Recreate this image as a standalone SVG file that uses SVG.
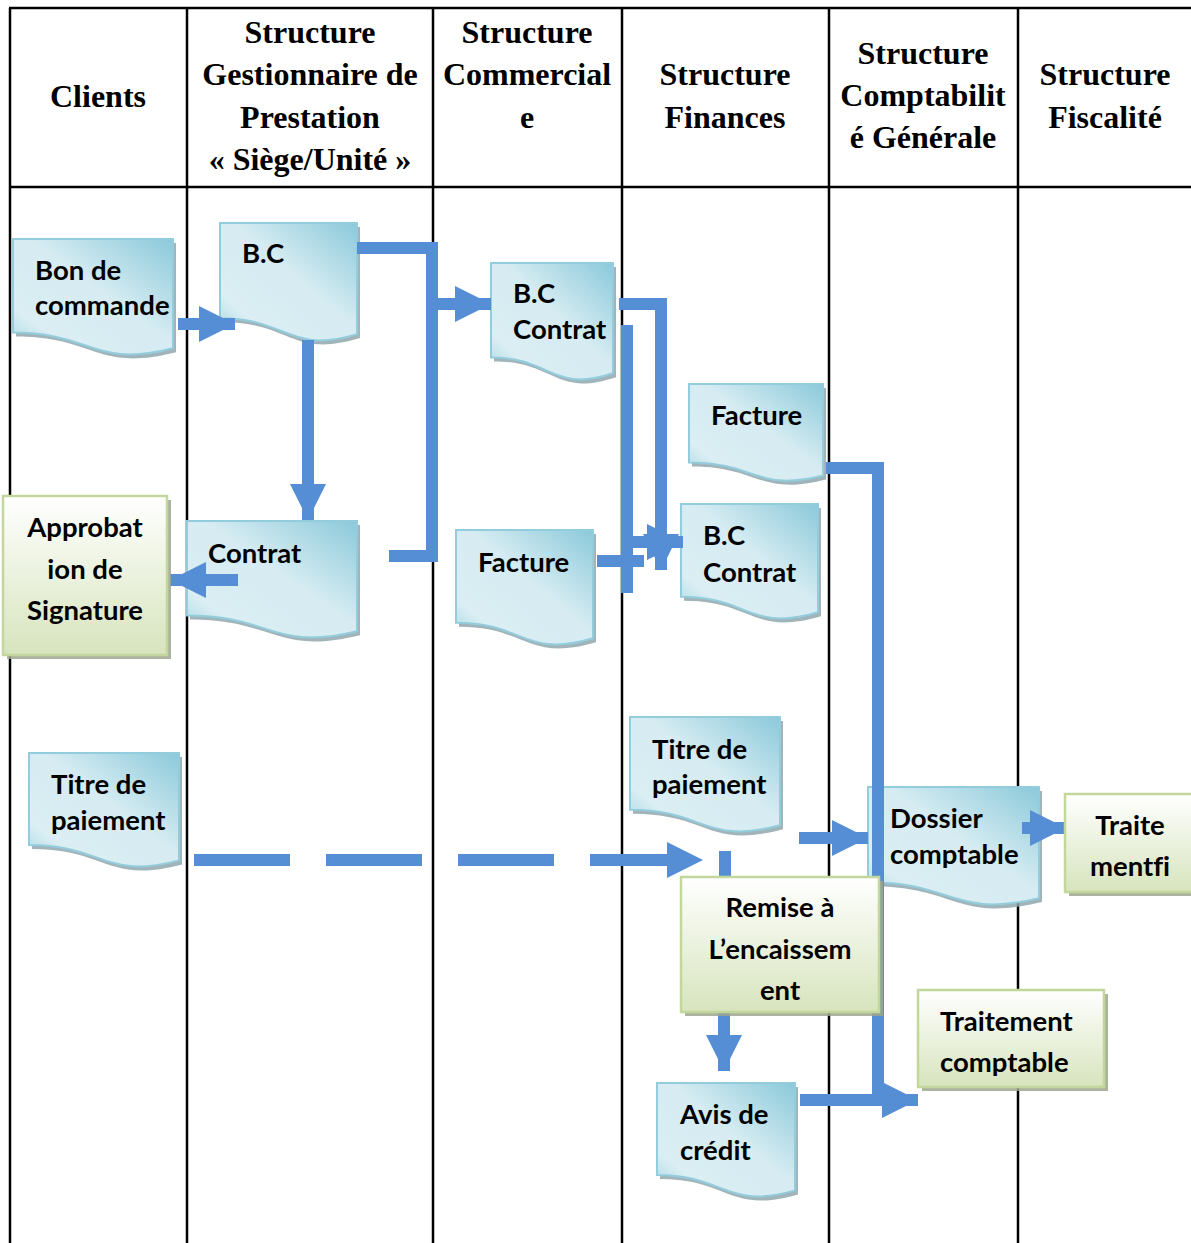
<svg xmlns="http://www.w3.org/2000/svg" xmlns:xlink="http://www.w3.org/1999/xlink" width="1191" height="1243" viewBox="0 0 1191 1243">
<style>
.grid{stroke:#000;stroke-width:2.5;fill:none}
.hd{font-family:"Liberation Serif","Times New Roman",serif;font-weight:bold;font-size:32px;fill:#000;text-anchor:middle}
.tx{font-family:Lato,"Noto Sans",sans-serif;font-weight:bold;font-size:27.5px;fill:#000;font-variant-ligatures:none}
.tc{text-anchor:middle}
.doc{fill:url(#gDoc);stroke:#93cddd;stroke-width:2}
.dsh{fill:#8fa7ae;opacity:0.85}
.box{fill:url(#gBox);stroke:#c3d69b;stroke-width:2.5}
.bsh{fill:#9ea68e;opacity:0.85}
.cn{stroke:#558ed5;stroke-width:12;fill:none;stroke-linejoin:miter}
</style>
<defs>
<linearGradient id="gDoc" x1="1" y1="0" x2="0" y2="1">
<stop offset="0" stop-color="#8bc9da"/>
<stop offset="0.45" stop-color="#d6ecf2"/>
<stop offset="0.8" stop-color="#daeef3"/>
<stop offset="1" stop-color="#a3d6e2"/>
</linearGradient>
<linearGradient id="gBox" x1="0" y1="0" x2="0" y2="1">
<stop offset="0" stop-color="#ffffff"/>
<stop offset="1" stop-color="#d7e4bd"/>
</linearGradient>
<marker id="ah" markerUnits="userSpaceOnUse" viewBox="0 0 36 36" markerWidth="36" markerHeight="36" refX="36" refY="18" orient="auto">
<path d="M0,0 L36,18 L0,36 Z" fill="#558ed5"/>
</marker>
<path id="p1" d="M13 239 H173 V348.3 C93 368.5 93 332.6 13 332.6 Z"/>
<path id="p2" d="M220 223 H357 V334.1 C288.5 354.7 288.5 318.2 220 318.2 Z"/>
<path id="p3" d="M491 263 H613 V373.2 C552 393.6 552 357.4 491 357.4 Z"/>
<path id="p4" d="M689 384 H823 V475.5 C756 492.5 756 462.4 689 462.4 Z"/>
<path id="p5" d="M681 504 H818 V612.3 C749.5 632.4 749.5 596.8 681 596.8 Z"/>
<path id="p6" d="M187 521 H357 V631.2 C272 651.6 272 615.4 187 615.4 Z"/>
<path id="p7" d="M456 530 H593 V638.3 C524.5 658.4 524.5 622.8 456 622.8 Z"/>
<path id="p9" d="M29 753 H179 V860.4 C104 880.3 104 845 29 845 Z"/>
<path id="p10" d="M630 717 H780 V825.3 C705 845.4 705 809.8 630 809.8 Z"/>
<path id="p11" d="M868 787 H1039 V898.1 C953.5 918.7 953.5 882.2 868 882.2 Z"/>
<path id="p14" d="M657 1083 H795 V1190.4 C726 1210.3 726 1175 657 1175 Z"/>
</defs>
<rect width="1191" height="1243" fill="#fff"/>
<g id="table">
<line class="grid" x1="9" y1="8" x2="1191" y2="8"/>
<line class="grid" x1="9" y1="187" x2="1191" y2="187"/>
<line class="grid" x1="10" y1="8" x2="10" y2="1243"/>
<line class="grid" x1="187" y1="8" x2="187" y2="1243"/>
<line class="grid" x1="433" y1="8" x2="433" y2="1243"/>
<line class="grid" x1="622" y1="8" x2="622" y2="1243"/>
<line class="grid" x1="829" y1="8" x2="829" y2="1243"/>
<line class="grid" x1="1018" y1="8" x2="1018" y2="1243"/>
<text class="hd" x="98" y="107">Clients</text>
<text class="hd" x="310"><tspan x="310" y="43">Structure</tspan><tspan x="310" y="85">Gestionnaire de</tspan><tspan x="310" y="128">Prestation</tspan><tspan x="310" y="170">« Siège/Unité »</tspan></text>
<text class="hd"><tspan x="527" y="43">Structure</tspan><tspan x="527" y="85">Commercial</tspan><tspan x="527" y="128">e</tspan></text>
<text class="hd"><tspan x="725" y="85">Structure</tspan><tspan x="725" y="128">Finances</tspan></text>
<text class="hd"><tspan x="923" y="64">Structure</tspan><tspan x="923" y="106">Comptabilit</tspan><tspan x="923" y="148">é Générale</tspan></text>
<text class="hd"><tspan x="1105" y="85">Structure</tspan><tspan x="1105" y="128">Fiscalité</tspan></text>
</g>
<g id="n-bon-commande"><use xlink:href="#p1" class="dsh" transform="translate(3,4)"/><use xlink:href="#p1" class="doc"/><text class="tx"><tspan x="35" y="280">Bon de</tspan><tspan x="35" y="315">commande</tspan></text></g>
<g id="n-bc-gest"><use xlink:href="#p2" class="dsh" transform="translate(3,4)"/><use xlink:href="#p2" class="doc"/><text class="tx" x="242" y="263">B.C</text></g>
<g id="n-bc-contrat-comm"><use xlink:href="#p3" class="dsh" transform="translate(3,4)"/><use xlink:href="#p3" class="doc"/><text class="tx"><tspan x="513" y="303">B.C</tspan><tspan x="513" y="339">Contrat</tspan></text></g>
<g id="n-facture-fin"><use xlink:href="#p4" class="dsh" transform="translate(3,4)"/><use xlink:href="#p4" class="doc"/><text class="tx" x="711" y="425">Facture</text></g>
<g id="n-bc-contrat-fin"><use xlink:href="#p5" class="dsh" transform="translate(3,4)"/><use xlink:href="#p5" class="doc"/><text class="tx"><tspan x="703" y="545">B.C</tspan><tspan x="703" y="582">Contrat</tspan></text></g>
<g id="n-contrat"><use xlink:href="#p6" class="dsh" transform="translate(3,4)"/><use xlink:href="#p6" class="doc"/><text class="tx" x="208" y="563">Contrat</text></g>
<g id="n-facture-comm"><use xlink:href="#p7" class="dsh" transform="translate(3,4)"/><use xlink:href="#p7" class="doc"/><text class="tx" x="478" y="572">Facture</text></g>
<g id="n-titre-clients"><use xlink:href="#p9" class="dsh" transform="translate(3,4)"/><use xlink:href="#p9" class="doc"/><text class="tx"><tspan x="51" y="794">Titre de</tspan><tspan x="51" y="830">paiement</tspan></text></g>
<g id="n-titre-fin"><use xlink:href="#p10" class="dsh" transform="translate(3,4)"/><use xlink:href="#p10" class="doc"/><text class="tx"><tspan x="652" y="759">Titre de</tspan><tspan x="652" y="794">paiement</tspan></text></g>
<g id="n-dossier"><use xlink:href="#p11" class="dsh" transform="translate(3,4)"/><use xlink:href="#p11" class="doc"/><text class="tx"><tspan x="890" y="828">Dossier</tspan><tspan x="890" y="864">comptable</tspan></text></g>
<g id="n-avis"><use xlink:href="#p14" class="dsh" transform="translate(3,4)"/><use xlink:href="#p14" class="doc"/><text class="tx"><tspan x="680" y="1124">Avis de</tspan><tspan x="680" y="1160">crédit</tspan></text></g>
<g id="connectors">
<line class="cn" x1="178" y1="324" x2="235" y2="324" marker-end="url(#ah)"/>
<line class="cn" x1="308" y1="340" x2="308" y2="520" marker-end="url(#ah)"/>
<path class="cn" d="M357 248 H432 V556 H389"/>
<line class="cn" x1="432" y1="304" x2="491" y2="304" marker-end="url(#ah)"/>
<line class="cn" x1="238" y1="580" x2="170" y2="580" marker-end="url(#ah)"/>
<path class="cn" d="M619 304 H661 V570" marker-end="url(#ah)"/>
<line class="cn" x1="627" y1="325" x2="627" y2="593"/>
<line class="cn" x1="627" y1="542" x2="683" y2="542" marker-end="url(#ah)"/>
<line class="cn" x1="597" y1="561" x2="644" y2="561"/>
<path class="cn" d="M826 468 H878 V1106"/>
<line class="cn" x1="800" y1="1100" x2="918" y2="1100" marker-end="url(#ah)"/>
<line class="cn" x1="194" y1="860" x2="703" y2="860" stroke-dasharray="96 36" marker-end="url(#ah)"/>
<line class="cn" x1="725" y1="851" x2="725" y2="880" stroke-width="10"/>
<line class="cn" x1="799" y1="838" x2="868" y2="838" marker-end="url(#ah)"/>
<line class="cn" x1="1022" y1="828" x2="1066" y2="828" marker-end="url(#ah)"/>
<line class="cn" x1="724" y1="1010" x2="724" y2="1071" marker-end="url(#ah)"/>
</g>
<g id="n-approbation"><rect class="bsh" x="7" y="500" width="164" height="159"/><rect class="box" x="3" y="496" width="164" height="159"/><text class="tx tc"><tspan x="85" y="537">Approbat</tspan><tspan x="85" y="579">ion de</tspan><tspan x="85" y="620">Signature</tspan></text></g>
<g id="n-traitementfi"><rect class="bsh" x="1069" y="798" width="130" height="98"/><rect class="box" x="1065" y="794" width="130" height="98"/><text class="tx tc"><tspan x="1130" y="835">Traite</tspan><tspan x="1130" y="876">mentfi</tspan></text></g>
<g id="n-remise"><rect class="bsh" x="685" y="881" width="198" height="135"/><rect class="box" x="681" y="877" width="198" height="135"/><text class="tx tc"><tspan x="780" y="917">Remise à</tspan><tspan x="780" y="959">L’encaissem</tspan><tspan x="780" y="1000">ent</tspan></text></g>
<g id="n-traitement-comptable"><rect class="bsh" x="922" y="994" width="186" height="97"/><rect class="box" x="918" y="990" width="186" height="97"/><text class="tx"><tspan x="940" y="1031">Traitement</tspan><tspan x="940" y="1072">comptable</tspan></text></g>
</svg>
